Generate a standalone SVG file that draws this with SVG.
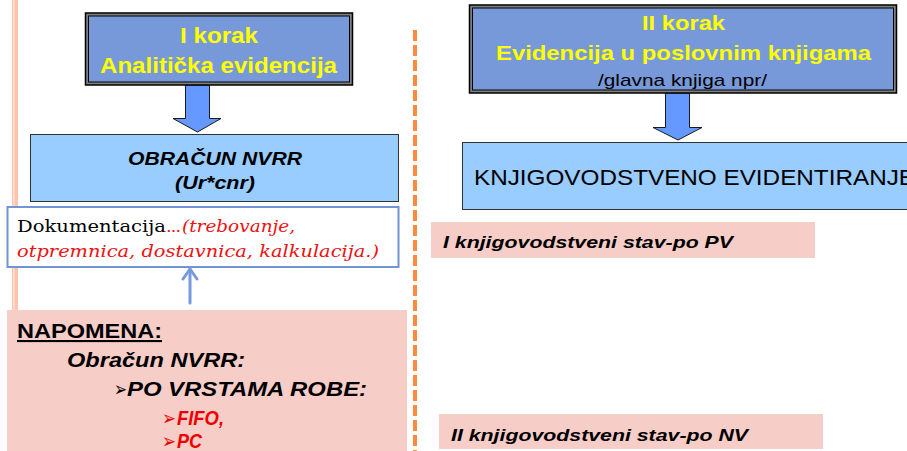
<svg xmlns="http://www.w3.org/2000/svg" width="907" height="451" viewBox="0 0 907 451">
<defs>
<style>
.hdr{font-family:"Liberation Sans",Arial,sans-serif;font-weight:bold;fill:#FFFF00}
.sans{font-family:"Liberation Sans",Arial,sans-serif}
.bi{font-family:"Liberation Sans",Arial,sans-serif;font-weight:bold;font-style:italic;fill:#000}
.serif{font-family:"DejaVu Serif","Liberation Serif",serif}
.arrow{fill:#6699FF;stroke:#1a1a1a;stroke-width:1}
.pink{fill:#F7CDC8}
.bul{font-family:"DejaVu Sans",sans-serif}
</style>
</defs>
<rect x="0" y="0" width="907" height="451" fill="#FFFFFF"/>
<g id="decor">
<rect x="12" y="0" width="6" height="312" fill="#FFC3AE"/>
<rect x="13.3" y="0" width="1.2" height="312" fill="#FFE9E0"/>
<line x1="415" y1="30" x2="415" y2="451" stroke="#FF8A3D" stroke-width="4" stroke-dasharray="11 4"/>
</g>
<g id="connectors">
<polygon class="arrow" points="185.5,85 209.5,85 209.5,118.5 221,118.5 197.5,132 173,118.5 185.5,118.5"/>
<polygon class="arrow" points="665.5,93 689.5,93 689.5,127.5 702,127.5 678,140 653,127.5 665.5,127.5"/>
<g stroke="#7799DD" stroke-width="3" fill="none" stroke-linecap="round" stroke-linejoin="round">
<line x1="190" y1="303" x2="190" y2="269"/>
<polyline points="183,279 190,269 197,279"/>
</g>
</g>
<g id="node-korak1">
<rect x="85.5" y="13" width="267" height="72" fill="#808080" stroke="#000" stroke-width="1.5"/>
<rect x="88.5" y="16" width="261" height="66" fill="#7799D9" stroke="#000" stroke-width="1"/>
<text class="hdr" x="180" y="43" font-size="22" textLength="78" lengthAdjust="spacingAndGlyphs">I korak</text>
<text class="hdr" x="100" y="73" font-size="22" textLength="237" lengthAdjust="spacingAndGlyphs">Analitička evidencija</text>
</g>
<g id="node-korak2">
<rect x="469.5" y="5" width="427" height="88" fill="#808080" stroke="#000" stroke-width="1.5"/>
<rect x="472.5" y="8" width="421" height="82" fill="#7799D9" stroke="#000" stroke-width="1"/>
<text class="hdr" x="642" y="30" font-size="21" textLength="83" lengthAdjust="spacingAndGlyphs">II korak</text>
<text class="hdr" x="496" y="60" font-size="21" textLength="375" lengthAdjust="spacingAndGlyphs">Evidencija u poslovnim knjigama</text>
<text class="sans" x="598" y="86" font-size="17" fill="#000" textLength="169" lengthAdjust="spacingAndGlyphs">/glavna  knjiga  npr/</text>
</g>
<g id="node-obracun">
<rect x="30.5" y="134.5" width="368" height="67" fill="#99CCFF" stroke="#333" stroke-width="1"/>
<text class="bi" x="128" y="165" font-size="19" textLength="174" lengthAdjust="spacingAndGlyphs">OBRAČUN  NVRR</text>
<text class="bi" x="175" y="189" font-size="19" textLength="80" lengthAdjust="spacingAndGlyphs">(Ur*cnr)</text>
</g>
<g id="node-dokumentacija">
<rect x="7.5" y="207" width="391" height="60" fill="#FFFFFF" stroke="#7094D6" stroke-width="2"/>
<text class="serif" x="17" y="232" font-size="17.5" fill="#000" textLength="149" lengthAdjust="spacingAndGlyphs">Dokumentacija</text>
<text class="serif" x="166" y="232" font-size="17.5" fill="#EE1111" textLength="15">...</text>
<text class="serif" x="182" y="232" font-size="17.5" fill="#EE1111" font-style="italic" textLength="113" lengthAdjust="spacingAndGlyphs">(trebovanje,</text>
<text class="serif" x="17" y="257" font-size="17.5" fill="#EE1111" font-style="italic" textLength="362" lengthAdjust="spacingAndGlyphs">otpremnica, dostavnica, kalkulacija.)</text>
</g>
<g id="node-napomena">
<rect class="pink" x="7" y="310" width="400" height="141"/>
<text class="sans" x="17" y="338" font-size="21" font-weight="bold" text-decoration="underline" fill="#000" textLength="145" lengthAdjust="spacingAndGlyphs">NAPOMENA:</text>
<text class="bi" x="67" y="367" font-size="20" textLength="178" lengthAdjust="spacingAndGlyphs">Obračun  NVRR:</text>
<text class="bul" x="114" y="396" font-size="20" fill="#000" textLength="13" lengthAdjust="spacingAndGlyphs">➢</text>
<text class="bi" x="127" y="396" font-size="21" textLength="240" lengthAdjust="spacingAndGlyphs">PO VRSTAMA ROBE:</text>
<text class="bul" x="162" y="425" font-size="20" fill="#EE0000" textLength="14" lengthAdjust="spacingAndGlyphs">➢</text>
<text class="bi" x="177" y="425" font-size="21" style="fill:#EE0000" textLength="47" lengthAdjust="spacingAndGlyphs">FIFO,</text>
<text class="bul" x="162" y="448" font-size="20" fill="#EE0000" textLength="14" lengthAdjust="spacingAndGlyphs">➢</text>
<text class="bi" x="177" y="448" font-size="21" style="fill:#EE0000" textLength="25" lengthAdjust="spacingAndGlyphs">PC</text>
</g>
<g id="node-evidentiranje">
<rect x="462.5" y="142.5" width="450" height="67" fill="#99CCFF" stroke="#333" stroke-width="1"/>
<text class="sans" x="474" y="185" font-size="22" fill="#000" textLength="441" lengthAdjust="spacingAndGlyphs">KNJIGOVODSTVENO EVIDENTIRANJE</text>
</g>
<g id="node-stav1">
<rect class="pink" x="431" y="222" width="384" height="36"/>
<text class="bi" x="443" y="248" font-size="17" textLength="290" lengthAdjust="spacingAndGlyphs">I knjigovodstveni  stav-po PV</text>
</g>
<g id="node-stav2">
<rect class="pink" x="439" y="414" width="384" height="35"/>
<text class="bi" x="451" y="441" font-size="17" textLength="297" lengthAdjust="spacingAndGlyphs">II knjigovodstveni  stav-po NV</text>
</g>
</svg>
